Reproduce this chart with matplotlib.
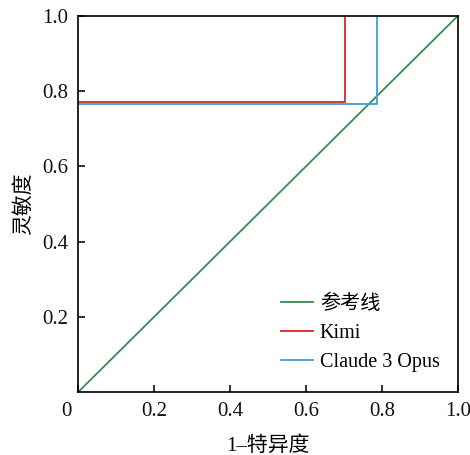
import matplotlib
matplotlib.use("Agg")
import matplotlib.pyplot as plt
import matplotlib.transforms as mtransforms

plt.rcParams['font.family'] = ['Liberation Serif', 'Noto Sans CJK SC']

ref_x = [0.0, 1.0]
ref_y = [0.0, 1.0]
kimi_fpr = [0.0, 0.703, 0.703]
kimi_tpr = [0.772, 0.772, 1.0]
claude_fpr = [0.0, 0.788, 0.788]
claude_tpr = [0.767, 0.767, 1.0]

xticks = [0, 0.2, 0.4, 0.6, 0.8, 1.0]
xtick_labels = ["0", "0.2", "0.4", "0.6", "0.8", "1.0"]
yticks = [0.2, 0.4, 0.6, 0.8, 1.0]
ytick_labels = ["0.2", "0.4", "0.6", "0.8", "1.0"]

fig = plt.figure(figsize=(4.7, 4.55), dpi=100)
ax = fig.add_axes([0.166, 0.138, 0.808, 0.827])

ax.plot(ref_x, ref_y, color="#3a8a4e", lw=1.3, label="参考线")
ax.plot(kimi_fpr, kimi_tpr, color="#d8262b", lw=1.3, label="Kimi")
ax.plot(claude_fpr, claude_tpr, color="#3a9fd8", lw=1.3, label="Claude 3 Opus")

ax.set_xlim(0, 1)
ax.set_ylim(0, 1)
ax.set_xticks(xticks)
ax.set_xticklabels(xtick_labels)
ax.set_yticks(yticks)
ax.set_yticklabels(ytick_labels)
ax.tick_params(direction="in", length=5, width=1.2, labelsize=15, pad=7, colors="#111111")
for sp in ax.spines.values():
    sp.set_linewidth(1.2)

# origin "0" sits a bit left of the corner
lbl0 = ax.get_xticklabels()[0]
lbl0.set_transform(lbl0.get_transform() +
                   mtransforms.ScaledTranslation(-12 / 100, 0, fig.dpi_scale_trans))

ax.set_xlabel("1–特异度", fontsize=15, labelpad=11)
ax.set_ylabel("灵敏度", fontsize=15, labelpad=6)

ax.legend(loc="lower right", frameon=False, fontsize=14.5, handlelength=1.6,
          handletextpad=0.35, labelspacing=0.5, bbox_to_anchor=(1.0, 0.005))

fig.savefig("out.png", dpi=100)
